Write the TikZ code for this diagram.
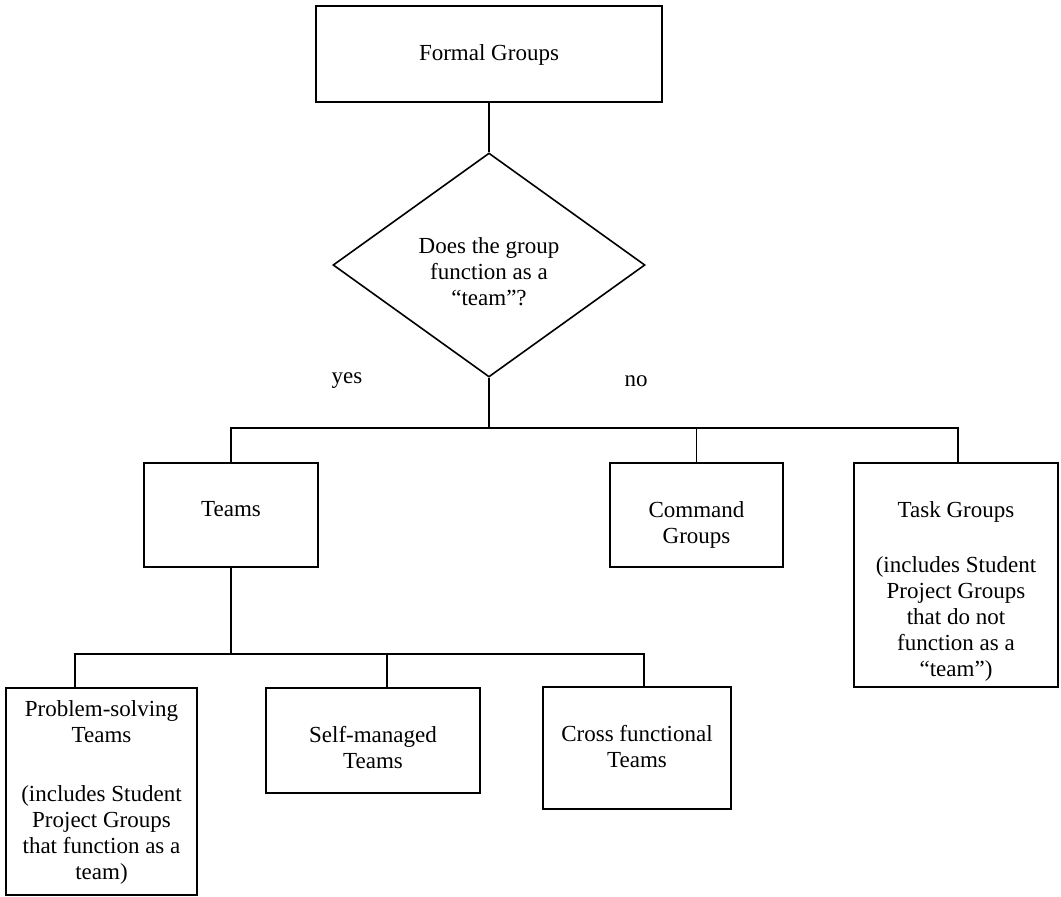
\documentclass[tikz,border=0pt]{standalone}
\usepackage{fontspec}
\setmainfont{Liberation Serif}
\usetikzlibrary{shapes.geometric}

\tikzset{
  box/.style={draw, line width=1.6pt, rectangle, inner sep=0pt},
  decision/.style={draw, line width=1.6pt, diamond, inner sep=0pt},
  txt/.style={anchor=north, align=center, inner sep=0pt, font=\fontsize{23}{26}\selectfont},
  conn/.style={line width=1.6pt}
}

\begin{document}
\begin{tikzpicture}[x=1pt, y=-1pt]
\useasboundingbox (0,0) rectangle (1061,897);

% question
\node[box, minimum width=346pt, minimum height=96pt] (formal) at (489,54) {};
\node[txt] (formal-t) at ([yshift=-39pt]formal.north) {Formal Groups};
\node[decision, minimum width=312pt, minimum height=224pt] (question) at (489,265) {};
\node[txt, anchor=center] (question-t) at (489,272) {Does the group\\function as a\\“team”?};
\node[txt, anchor=center] (yes) at (347,381) {yes};
\node[txt, anchor=center] (no) at (636,381) {no};
\coordinate (fork1) at (489,428);

% first level
\node[box, minimum width=174pt, minimum height=104pt] (teams) at (231,515) {};
\node[txt] (teams-t) at ([yshift=-39pt]teams.north) {Teams};
\node[box, minimum width=173pt, minimum height=104pt] (command) at (696.5,515) {};
\node[txt] (command-t) at ([yshift=-39pt]command.north) {Command\\Groups};
\node[box, minimum width=204pt, minimum height=224pt] (task) at (956,575) {};
\node[txt] (task-t) at ([yshift=-39pt]task.north) {Task Groups\\[29pt](includes Student\\Project Groups\\that do not\\function as a\\“team”)};
\coordinate (fork2) at (231,654);

% second level
\node[box, minimum width=191pt, minimum height=207pt] (solving) at (101.5,791.5) {};
\node[txt] (solving-t) at ([yshift=-13pt]solving.north) {Problem-solving\\Teams\\[33pt](includes Student\\Project Groups\\that function as a\\team)};
\node[box, minimum width=214pt, minimum height=105pt] (selfman) at (373,740.5) {};
\node[txt] (selfman-t) at ([yshift=-39pt]selfman.north) {Self-managed\\Teams};
\node[box, minimum width=188pt, minimum height=122pt] (cross) at (637,748) {};
\node[txt] (cross-t) at ([yshift=-39pt]cross.north) {Cross functional\\Teams};

% connectors
\draw[conn] (formal.south) -- (question.north);
\draw[conn] (question.south) -- (fork1);
\draw[conn] (teams.north) |- (fork1) -| ([xshift=2pt]task.north);
\draw[conn] (command.north) -- (command.north |- fork1);
\draw[conn] (teams.south) -- (fork2);
\draw[conn] ([xshift=-26.5pt]solving.north) |- (fork2) -| ([xshift=7pt]cross.north);
\draw[conn] ([xshift=14pt]selfman.north) -- ([xshift=14pt]selfman.north |- fork2);

\end{tikzpicture}
\end{document}
